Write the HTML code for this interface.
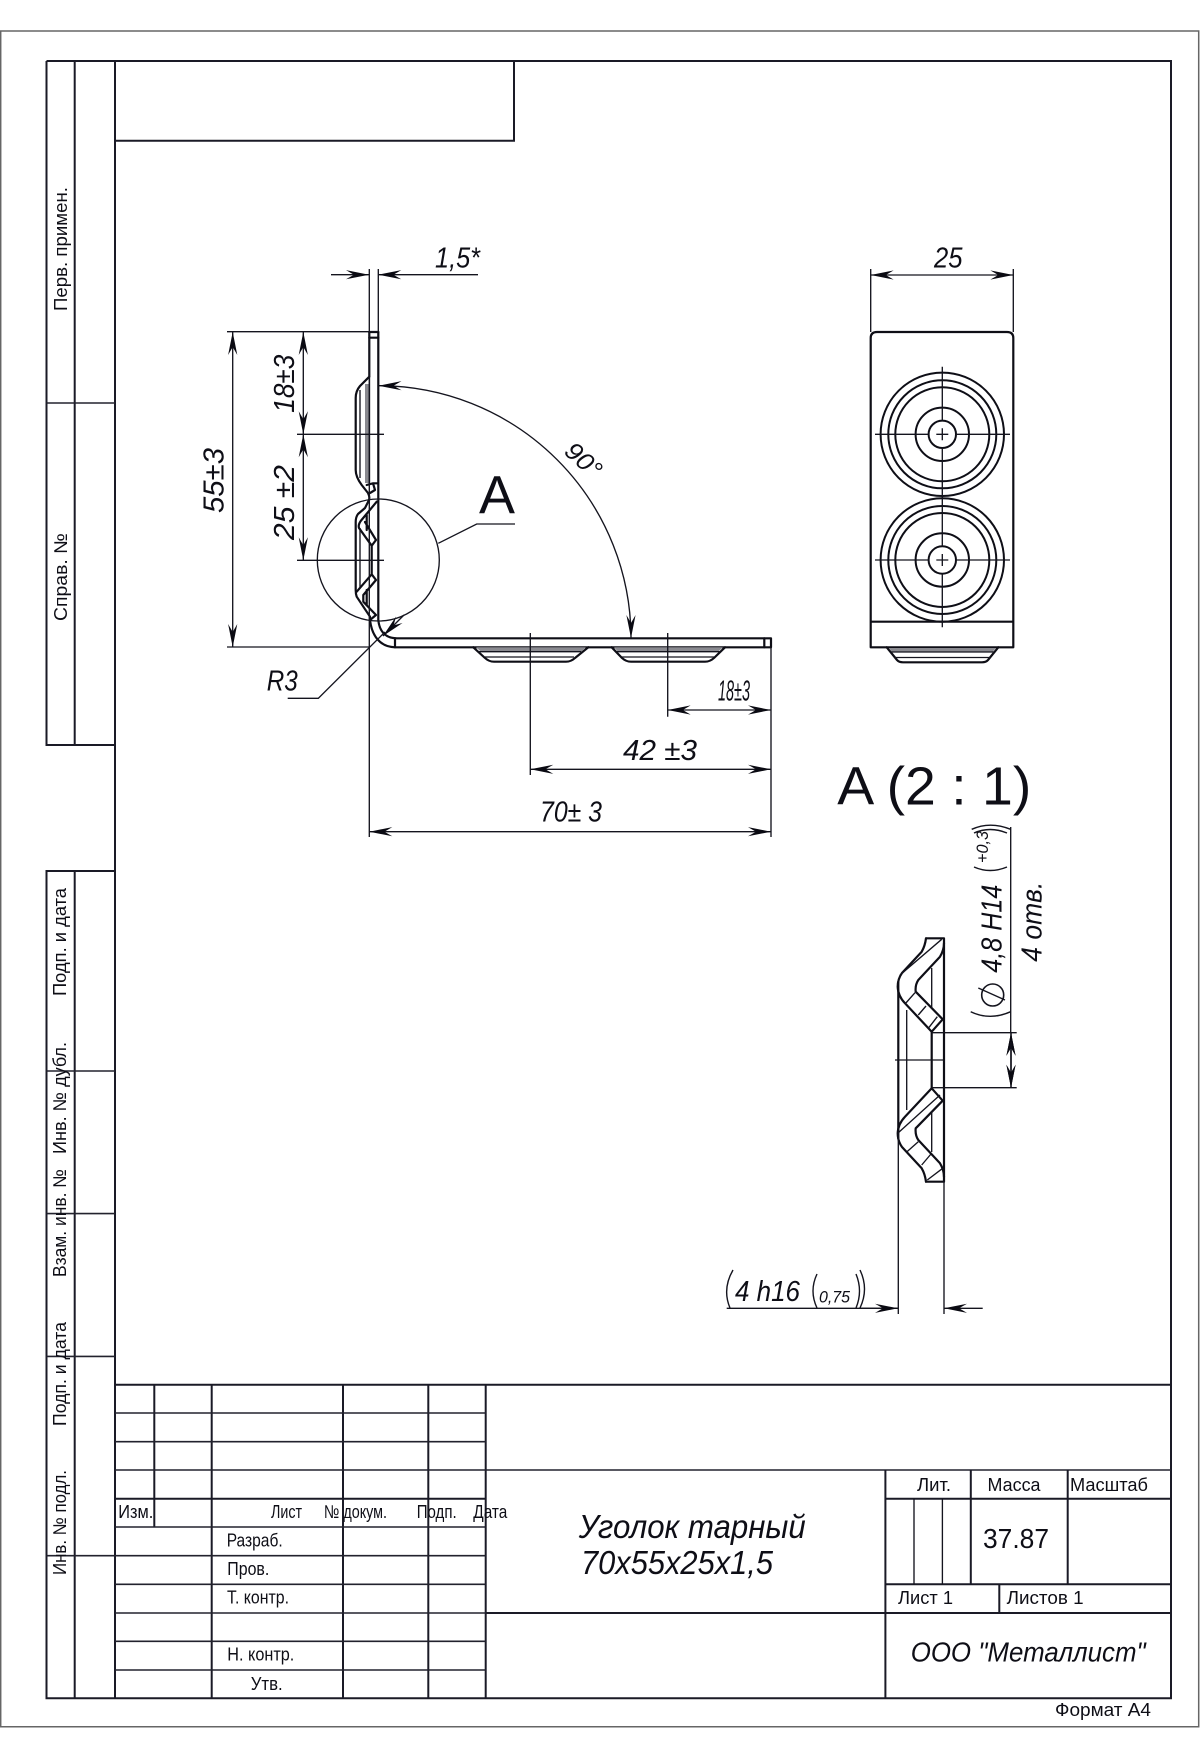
<!DOCTYPE html>
<html lang="ru">
<head>
<meta charset="utf-8">
<title>Уголок тарный</title>
<style>
html,body{margin:0;padding:0;background:#fff}
svg{display:block}
text{font-family:"Liberation Sans","DejaVu Sans",sans-serif;fill:#0e0e16}
.n{font-size:18.5px}
.i{font-style:italic;font-size:29px}
.th{fill:none;stroke:#0e0e16;stroke-width:2.2;stroke-linejoin:round;stroke-linecap:round}
.tn{fill:none;stroke:#14141e;stroke-width:1.35}
.fr{fill:none;stroke:#1a1a26;stroke-width:2}
.fl{fill:none;stroke:#22222e;stroke-width:1.6}
.d{fill:none;stroke:#14141e;stroke-width:1.35;marker-start:url(#a);marker-end:url(#a)}
.de{fill:none;stroke:#14141e;stroke-width:1.35;marker-end:url(#a)}
</style>
</head>
<body>
<svg xmlns="http://www.w3.org/2000/svg" width="1200" height="1760" viewBox="0 0 1200 1760">
<defs>
<marker id="a" markerUnits="userSpaceOnUse" markerWidth="26" markerHeight="14" viewBox="-24 -7 25 14" refX="0" refY="0" orient="auto-start-reverse">
<path d="M0,0 L-23,-4.6 L-15,0 L-23,4.6 Z" fill="#0a0a12"/>
</marker>
</defs>
<rect width="1200" height="1760" fill="#fff"/>

<!-- sheet border -->
<path d="M0.7,31 H1198.7 V1726.7 H0.7 Z" fill="none" stroke="#666" stroke-width="1.5"/>
<path class="fr" d="M115,61 H1171 V1698.3 H46.5 V871 H115 M46.5,61 H115 M46.5,61 V745 H115 M115,61 V1698.3 M74.7,61 V745 M74.7,871 V1698.3"/>
<path class="fr" d="M115,140.7 H514 V61"/>
<path class="fl" d="M46.5,403 H115 M46.5,1071 H115 M46.5,1213.6 H115 M46.5,1356.4 H115 M46.5,1555.7 H115"/>

<!-- sidebar labels -->
<g class="n">
<text transform="translate(67,311) rotate(-90)" textLength="124" lengthAdjust="spacingAndGlyphs">Перв. примен.</text>
<text transform="translate(67,621) rotate(-90)" textLength="88" lengthAdjust="spacingAndGlyphs">Справ. №</text>
<text transform="translate(66,996) rotate(-90)" textLength="108" lengthAdjust="spacingAndGlyphs">Подп. и дата</text>
<text transform="translate(66,1154) rotate(-90)" textLength="112" lengthAdjust="spacingAndGlyphs">Инв. № дубл.</text>
<text transform="translate(66,1277) rotate(-90)" textLength="108" lengthAdjust="spacingAndGlyphs">Взам. инв. №</text>
<text transform="translate(66,1426) rotate(-90)" textLength="104" lengthAdjust="spacingAndGlyphs">Подп. и дата</text>
<text transform="translate(66,1575) rotate(-90)" textLength="105" lengthAdjust="spacingAndGlyphs">Инв. № подл.</text>
</g>

<!-- title block grid -->
<path class="fr" d="M115,1384.7 H1171 M115,1498.7 H485.7 M485.7,1613 H1171 M211.7,1384.7 V1698.3 M154.3,1384.7 V1527 M343,1384.7 V1698.3 M428.3,1384.7 V1698.3 M485.7,1384.7 V1698.3"/>
<path class="fl" d="M115,1413 H485.7 M115,1441.7 H485.7 M115,1470 H1171 M115,1527 H485.7 M115,1555.7 H485.7 M115,1584.3 H485.7 M115,1613 H485.7 M115,1641.3 H485.7 M115,1670 H485.7"/>
<path class="fr" d="M885.4,1470 V1698.3 M970.8,1470 V1584.3 M1067.7,1470 V1584.3 M885.4,1498.7 H1171 M885.4,1584.3 H1171 M999.3,1584.3 V1613"/>
<path class="tn" d="M914,1498.7 V1584.3 M942.4,1498.7 V1584.3"/>

<g class="n">
<text x="118.3" y="1518" textLength="35" lengthAdjust="spacingAndGlyphs">Изм.</text>
<text x="271" y="1518" textLength="31" lengthAdjust="spacingAndGlyphs">Лист</text>
<text x="324" y="1518" textLength="63" lengthAdjust="spacingAndGlyphs">№ докум.</text>
<text x="416.7" y="1518" textLength="40" lengthAdjust="spacingAndGlyphs">Подп.</text>
<text x="473.3" y="1518" textLength="34" lengthAdjust="spacingAndGlyphs">Дата</text>
<text x="226.7" y="1546.7" textLength="56" lengthAdjust="spacingAndGlyphs">Разраб.</text>
<text x="227.3" y="1575" textLength="42" lengthAdjust="spacingAndGlyphs">Пров.</text>
<text x="227" y="1603.3" textLength="62" lengthAdjust="spacingAndGlyphs">Т. контр.</text>
<text x="227.3" y="1660.7" textLength="67" lengthAdjust="spacingAndGlyphs">Н. контр.</text>
<text x="250.7" y="1690" textLength="32" lengthAdjust="spacingAndGlyphs">Утв.</text>
<text x="917" y="1491" textLength="34" lengthAdjust="spacingAndGlyphs">Лит.</text>
<text x="987.5" y="1491" textLength="53" lengthAdjust="spacingAndGlyphs">Масса</text>
<text x="1070" y="1491" textLength="78" lengthAdjust="spacingAndGlyphs">Масштаб</text>
<text x="898" y="1604" textLength="55" lengthAdjust="spacingAndGlyphs">Лист 1</text>
<text x="1006.6" y="1604" textLength="77" lengthAdjust="spacingAndGlyphs">Листов 1</text>
<text x="1055" y="1716" textLength="96" lengthAdjust="spacingAndGlyphs">Формат А4</text>
</g>
<text x="983" y="1548" font-size="28" textLength="66" lengthAdjust="spacingAndGlyphs">37.87</text>
<text class="i" x="578.7" y="1538" style="font-size:33px" textLength="227" lengthAdjust="spacingAndGlyphs">Уголок тарный</text>
<text class="i" x="581" y="1574" style="font-size:33px" textLength="192" lengthAdjust="spacingAndGlyphs">70x55x25x1,5</text>
<text class="i" x="910.7" y="1661.7" style="font-size:28px" textLength="235" lengthAdjust="spacingAndGlyphs">ООО "Металлист"</text>

<!-- LEFT VIEW : part -->
<rect x="365" y="384" width="4.5" height="99" fill="#8a8a90"/>
<path class="th" d="M378.3,332 V620 C379.5,632 386,638.3 397,638.3 H771 V647.3 H395 C381,647 372,637 370,620"/>
<path class="th" d="M369.3,332 H378.3 M369.3,337.7 H378.3 M395,638.3 V647.3 M764.3,638.3 V647.3"/>
<path class="th" d="M369.3,332 V376.7 L360,386 Q355.7,391 355.7,398 V470 Q355.7,477 361.7,485 L368,493 Q370,497 369,500 L365,508 L358,514 Q355.7,517 355.7,522 V590 Q355.7,594 356.7,596.7 L370,616.7 L370,620"/>
<path class="th" d="M366.7,485 L373,483.3 H377.7 M373,483.3 L375,490 L370,493"/>
<path class="th" d="M376.7,501.7 L360.7,521 Q358,525 359,528 L371.7,545.7 L376,540 L365,522 M366.7,515 V530 M371.7,545.7 V574.3 L356.7,591.7 M371.7,574.3 L376,580 L363.3,595 V601.7 L376,615 L370,620 M366.7,590 V605"/>
<path class="tn" d="M360,390 V478 M360,528 V587 M369.5,376 V485"/>
<!-- bottom bumps -->
<path d="M476,647.3 H586 L581,651.7 H481 Z M614,647.3 H723 L718,651.7 H618 Z" fill="#8a8a90"/>
<path class="th" d="M473.3,647.3 L485,658 Q489,661.7 494,661.7 H566 Q571,661.7 575,658 L588.3,647.3 M611.7,647.3 L622,658 Q626,661.7 631,661.7 H705 Q710,661.7 714,658 L725,647.3"/>
<path class="tn" d="M478,651.7 H581 M485,657 H574 M617,651.7 H720 M622,657 H714"/>

<!-- extension lines -->
<path class="tn" d="M369.3,269 V837 M378.3,269 V332 M227,331.7 H378 M227,647 H369 M297,434.3 H384 M297,560.3 H384 M530.3,633 V775 M667.7,633 V716.7 M771,647 V837"/>

<!-- dims left view -->
<path class="de" d="M331,274.7 H369"/>
<path class="de" d="M478,274.7 H378.3"/>
<path class="d" d="M232.7,332 V647"/>
<path class="d" d="M303.3,332 V434.3"/>
<path class="d" d="M303.3,434.3 V560.3"/>
<path class="d" d="M667.7,710 H771"/>
<path class="d" d="M530.3,769.3 H771"/>
<path class="d" d="M369.3,831.7 H771"/>
<path class="d" d="M378.5,385.7 A252.5,252.5 0 0 1 631,638"/>

<!-- R3 leader and circle A -->
<path class="tn" d="M287.7,698.3 H318.3 L385,632"/>
<path class="de" d="M404,615 L383,636"/>
<circle class="tn" cx="378.3" cy="560" r="61"/>
<path class="tn" d="M438.3,543.3 L476.7,524 H515"/>
<text x="479" y="513.3" font-size="54" textLength="36" lengthAdjust="spacingAndGlyphs">А</text>

<g class="i">
<text x="435" y="267.7" textLength="45" lengthAdjust="spacingAndGlyphs">1,5*</text>
<text transform="translate(223.3,513) rotate(-90)" textLength="65" lengthAdjust="spacingAndGlyphs">55±3</text>
<text transform="translate(294,412.7) rotate(-90)" textLength="58" lengthAdjust="spacingAndGlyphs">18±3</text>
<text transform="translate(294,540) rotate(-90)" textLength="75" lengthAdjust="spacingAndGlyphs">25 ±2</text>
<text x="266.7" y="690.7" textLength="31" lengthAdjust="spacingAndGlyphs">R3</text>
<text x="718" y="700.7" textLength="32" lengthAdjust="spacingAndGlyphs">18±3</text>
<text x="623" y="760" textLength="74" lengthAdjust="spacingAndGlyphs">42 ±3</text>
<text x="540" y="821.7" textLength="62" lengthAdjust="spacingAndGlyphs">70± 3</text>
<text transform="translate(563,453) rotate(42)" style="font-size:25px" textLength="40" lengthAdjust="spacingAndGlyphs">90°</text>
<text x="934" y="267.3" textLength="28.5" lengthAdjust="spacingAndGlyphs">25</text>
</g>

<!-- RIGHT VIEW -->
<path class="th" d="M870.7,647.3 V338 Q870.7,332 877,332 H1007 Q1013.3,332 1013.3,338 V647.3 Z M870.7,621.7 H1013.3"/>
<path class="th" d="M886.7,647.3 L897,660 Q899,662.3 903,662.3 H982 Q986,662.3 988,660 L998.3,647.3"/>
<path d="M889,648 H996 L992.5,652 H892 Z" fill="#8a8a90"/>
<path class="tn" d="M891,652 H994 M895,657.5 H990"/>
<g class="th" style="stroke-width:2">
<circle cx="942.3" cy="434.3" r="61.7"/><circle cx="942.3" cy="434.3" r="54"/><circle cx="942.3" cy="434.3" r="47"/><circle cx="942.3" cy="434.3" r="26.7"/><circle cx="942.3" cy="434.3" r="13.7"/>
<circle cx="942.3" cy="560" r="61.7"/><circle cx="942.3" cy="560" r="54"/><circle cx="942.3" cy="560" r="47"/><circle cx="942.3" cy="560" r="26.7"/><circle cx="942.3" cy="560" r="13.7"/>
</g>
<path class="tn" d="M942.3,366.7 V420.6 M942.3,448 V546.3 M942.3,573.7 V627.3 M875,434.3 H928.6 M956,434.3 H1010 M875,560 H928.6 M956,560 H1010 M936.3,434.3 H948.3 M942.3,428.3 V440.3 M936.3,560 H948.3 M942.3,554 V566 M870.7,269 V332 M1013.3,269 V332"/>
<path class="d" d="M870.7,275 H1013.3"/>

<text x="837.3" y="804.3" font-size="54" textLength="194" lengthAdjust="spacingAndGlyphs">A (2 : 1)</text>

<!-- DETAIL VIEW -->
<path class="th" d="M944,938.3 V1181.7 M926,938.3 H944 M926,1181.7 H944"/>
<path class="th" d="M898.3,981.7 V1138.3 M931.7,1031.7 V1088.3"/>
<path class="tn" d="M906.7,1010 V1110"/>
<path class="th" d="M926,938.3 Q925,946 921.7,951.7 L902,973 Q897.7,979 897.7,986.7 Q898,996 905,1003.3 L931.7,1031.7 L942.7,1019.3 L915.7,991.7 Q915,985 918.3,980 L940,956.7 Q944,950 944,943"/>
<path class="th" d="M926,1181.7 Q925,1174 921.7,1168.3 L902,1147 Q897.7,1141 897.7,1133.3 Q898,1124 905,1116.7 L931.7,1088.3 L942.7,1100.7 L915.7,1128.3 Q915,1135 918.3,1140 L940,1163.3 Q944,1170 944,1177"/>
<path class="tn" d="M900,975 L941.7,939.3 M931.7,968 V1009 M931.7,1111 V1152 M905,1004 L915,992.7 M918.3,1015 L926,1006 M928.3,1028.3 L937.3,1016.7 M898,1133 L940,1095 M906.7,1152 L918.3,1141.7 M921.7,1165 L931,1154 M927.3,1180 L942.7,1168.3"/>
<path class="tn" d="M895,1060 H943.3 M931.7,1032.7 H1016.7 M931.7,1087.7 H1016.7 M898.3,1133 V1314 M944,1181 V1314 M1010.7,827 V1032"/>
<path class="d" d="M1011,1032.7 V1087.7"/>
<path class="de" d="M1011,1078 V1032.7"/>
<path class="de" d="M1011,1042 V1087.7"/>

<!-- detail dim texts -->
<g class="i">
<text transform="translate(1001.7,972.7) rotate(-90)" textLength="88" lengthAdjust="spacingAndGlyphs">4,8 H14</text>
<text transform="translate(1041.7,961.7) rotate(-90)" textLength="80" lengthAdjust="spacingAndGlyphs">4 отв.</text>
<text transform="translate(988,863) rotate(-90)" style="font-size:17px" textLength="32" lengthAdjust="spacingAndGlyphs">+0,3</text>
<text x="735" y="1301" textLength="65" lengthAdjust="spacingAndGlyphs">4 h16</text>
<text x="819" y="1302.7" style="font-size:17px" textLength="31" lengthAdjust="spacingAndGlyphs">0,75</text>
</g>
<circle class="tn" cx="992.7" cy="995" r="11" style="stroke-width:1.6"/>
<path class="tn" d="M978.3,988 L1005,1000"/>
<path class="tn" style="stroke-width:1.4" d="M970.7,1011.7 Q990,1021 1010.7,1011.7 M971.7,829.3 Q990,821 1010.7,829.3 M974,867 Q990,874 1007,867 M974,833 Q990,826 1007,833"/>
<path class="tn" style="stroke-width:1.4" d="M733,1270 Q722,1289 730,1308 M817,1274 Q809,1291 817,1308 M856,1274 Q863,1291 856,1308 M860,1270 Q869,1289 860,1308"/>
<path class="tn" d="M726.7,1308.3 H898"/>
<path class="de" d="M860,1308.3 H898"/>
<path class="de" d="M982.7,1308.3 H944"/>
</svg>
</body>
</html>
